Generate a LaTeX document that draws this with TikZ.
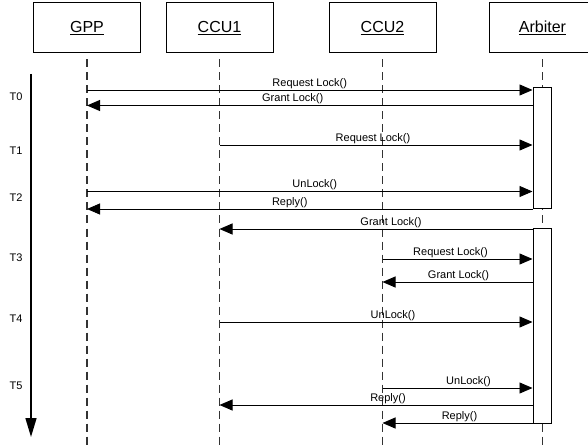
\documentclass[tikz,border=0pt]{standalone}
\usepackage{fontspec}
\setmainfont{Liberation Sans}
\usetikzlibrary{arrows.meta, positioning, calc}

\tikzset{
  header/.style={draw, line width=1pt, minimum width=107pt, minimum height=50pt, font=\fontsize{16}{19}\selectfont},
  lifeline/.style={dash pattern=on 8pt off 5pt, line width=1.3pt, black!80},
  actbox/.style={draw, fill=white, line width=1pt, minimum width=18pt, inner sep=0pt},
  msg/.style={line width=0.9pt, -{Triangle[length=13pt,width=11pt]}},
  msglabel/.style={above, inner sep=1pt, font=\fontsize{11}{13}\selectfont},
  tlabel/.style={font=\fontsize{11}{13}\selectfont},
  timeline/.style={line width=1.5pt, -{Triangle[length=19pt,width=11pt]}},
}

\begin{document}
\begin{tikzpicture}[x=1pt, y=-1pt]
  \useasboundingbox (0,0) rectangle (588,446);

  % objects
  \foreach \x/\n/\m in {87/gpp/GPP, 219.5/ccua/CCU1, 382.5/ccub/CCU2, 542.5/arb/Arbiter}
    \node[header] (\n) at (\x,28) {\underline{\m}};

  \foreach \n in {gpp, ccua, ccub, arb}
    \draw[lifeline] ([yshift=-6pt]\n.south) -- (\n.south |- 0,446);

  % activation of the arbiter
  \node[actbox, minimum height=121pt] (act1) at (542,148.5) {};
  \node[actbox, minimum height=195pt] (act2) at (542,325.5) {};

  % time axis
  \coordinate (tstart) at (31,74);
  \coordinate (tend) at (31,437);
  \draw[timeline] (tstart) -- (tend);

  \foreach \y/\m in {97/0, 151/1, 198/2, 258/3, 319/4, 386/5}
    \node[tlabel] (t\m) at (16,\y) {T\m};

  % messages
  \foreach \s/\e/\y/\m/\d in {
      gpp/act1.west/90/Request Lock()/0,
      act1.west/gpp/105.5/Grant Lock()/-17,
      ccua/act1.west/145/Request Lock()/-3,
      gpp/act1.west/191.5/UnLock()/5,
      act1.west/gpp/209/Reply()/-20,
      act2.west/ccua/229/Grant Lock()/15,
      ccub/act2.west/259/Request Lock()/-7,
      act2.west/ccub/282/Grant Lock()/1,
      ccua/act2.west/322/UnLock()/17,
      ccub/act2.west/388/UnLock()/11,
      act2.west/ccua/405/Reply()/12,
      act2.west/ccub/423/Reply()/2}
    \draw[msg] (\s |- 0,\y) -- node[msglabel, xshift=\d] {\m} (\e |- 0,\y);

\end{tikzpicture}
\end{document}
